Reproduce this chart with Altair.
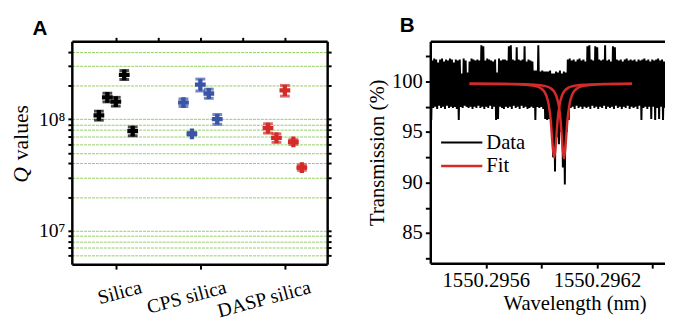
import altair as alt
import numpy as np
import pandas as pd

SERIF = "'Liberation Serif', 'Times New Roman', Times, 'DejaVu Serif', serif"
SANS = "'Liberation Sans', Arial, Helvetica, sans-serif"

# ---------------- Panel A data ----------------
categories = ["Silica", "CPS silica", "DASP silica"]
category_pos = [1, 2, 3]
group_colors = ["#000000", "#3a54a6", "#d32a2a"]

silica_x = [0.8, 0.9, 1.0, 1.1, 1.2]
silica_q = [1.08e8, 1.57e8, 1.44e8, 2.50e8, 7.8e7]
silica_err = [1.0e7, 1.4e7, 1.3e7, 2.3e7, 7e6]

cps_x = [1.8, 1.9, 2.0, 2.1, 2.2]
cps_q = [1.41e8, 7.4e7, 2.04e8, 1.70e8, 1.0e8]
cps_err = [1.1e7, 2e6, 2.5e7, 1.6e7, 1.0e7]

dasp_x = [2.8, 2.9, 3.0, 3.1, 3.2]
dasp_q = [8.3e7, 6.8e7, 1.81e8, 6.25e7, 3.68e7]
dasp_err = [8e6, 6e6, 2.0e7, 3e6, 2e6]

q_ticks = [6e6, 7e6, 8e6, 9e6, 1e7, 2e7, 3e7, 4e7, 5e7, 6e7, 7e7, 8e7, 9e7,
           1e8, 2e8, 3e8, 4e8]
top_ticks = [1, 1.5, 2, 2.5, 3]

# ---------------- Panel B data ----------------
wl_start = 1550.29530
wl_step = 5.3036e-6
transmission = [
    103.4, 96.2, 102.1, 97.4, 102.3, 97.5, 102.2, 97.3, 101.9, 97.6,
    102.2, 97.4, 102.3, 97.5, 102.0, 97.3, 102.2, 97.6, 102.1, 97.4,
    102.3, 97.5, 102.2, 97.4, 101.9, 97.5, 102.2, 97.3, 102.1, 96.2,
    102.2, 97.5, 100.8, 97.4, 102.3, 97.6, 102.1, 97.5, 100.9, 97.4,
    102.0, 97.5, 102.3, 97.3, 102.2, 97.5, 102.1, 97.4, 102.2, 97.6,
    102.1, 97.4, 103.6, 97.5, 103.5, 97.3, 102.1, 97.5, 102.3, 97.4,
    102.2, 97.6, 102.1, 97.3, 102.0, 97.5, 102.2, 96.2, 100.9, 96.3,
    102.3, 97.5, 102.1, 97.4, 102.2, 97.3, 102.2, 97.5, 102.1, 97.4,
    103.5, 97.5, 103.6, 97.3, 102.2, 97.6, 102.1, 97.4, 103.4, 97.5,
    102.2, 97.3, 102.1, 97.6, 102.2, 97.4, 103.5, 97.5, 102.0, 97.3,
    102.2, 97.4, 102.1, 97.5, 102.0, 97.4, 101.1, 96.2, 101.1, 97.5,
    103.6, 97.4, 101.0, 97.5, 101.1, 97.3, 101.0, 96.3, 101.0, 96.2,
    101.0, 96.3, 101.1, 95.5, 100.8, 92.5, 100.8, 91.1, 101.0, 94.5,
    100.9, 93.8, 101.1, 95.0, 100.8, 91.5, 101.0, 89.8, 100.9, 95.0,
    102.2, 96.2, 102.3, 97.4, 102.1, 97.5, 102.2, 97.3, 102.0, 97.6,
    102.2, 97.4, 102.3, 97.5, 102.1, 97.3, 102.2, 97.5, 102.0, 97.4,
    103.5, 97.5, 103.6, 97.3, 102.2, 97.6, 102.1, 97.4, 103.5, 97.5,
    103.4, 97.3, 102.2, 97.5, 102.1, 97.4, 102.2, 97.6, 103.6, 97.3,
    102.1, 97.5, 102.2, 97.4, 102.0, 97.5, 103.5, 97.3, 103.4, 97.6,
    102.2, 97.4, 102.1, 97.5, 102.2, 97.3, 102.0, 97.5, 102.2, 97.4,
    102.3, 97.6, 102.1, 97.3, 102.2, 97.5, 102.1, 97.4, 102.2, 97.5,
    102.0, 97.3, 102.2, 97.6, 102.1, 96.2, 102.2, 97.4, 102.3, 97.5,
    102.1, 97.3, 102.2, 97.5, 102.0, 96.3, 102.2, 97.5, 102.1, 96.2,
    102.2, 97.4, 102.3, 96.3, 102.1, 97.5, 102.2, 96.2, 102.0, 97.4,
]

fit1_wl = [1550.295512, 1550.295703, 1550.295810, 1550.295863, 1550.295895,
           1550.295916, 1550.295927, 1550.295937, 1550.295942, 1550.295948,
           1550.295953, 1550.295958, 1550.295964, 1550.295969, 1550.295974,
           1550.295980, 1550.295985, 1550.295990, 1550.295996, 1550.296001,
           1550.296011, 1550.296022, 1550.296043, 1550.296075, 1550.296128,
           1550.296235, 1550.296389]
fit1_t = [99.79, 99.76, 99.70, 99.58, 99.37, 99.00, 98.60, 97.95, 97.40, 96.60,
          95.60, 94.30, 93.05, 92.50, 93.05, 94.30, 95.60, 96.60, 97.40, 97.95,
          98.60, 99.00, 99.37, 99.58, 99.70, 99.76, 99.79]
fit2_wl = [1550.295512, 1550.295757, 1550.295863, 1550.295916, 1550.295948,
           1550.295969, 1550.295980, 1550.295990, 1550.295996, 1550.296001,
           1550.296006, 1550.296011, 1550.296017, 1550.296022, 1550.296027,
           1550.296033, 1550.296038, 1550.296043, 1550.296049, 1550.296054,
           1550.296064, 1550.296075, 1550.296096, 1550.296128, 1550.296181,
           1550.296288, 1550.296389]
fit2_t = [99.79, 99.76, 99.70, 99.58, 99.37, 99.00, 98.60, 97.95, 97.40, 96.60,
          95.60, 94.30, 93.05, 92.40, 93.05, 94.30, 95.60, 96.60, 97.40, 97.95,
          98.60, 99.00, 99.37, 99.58, 99.70, 99.76, 99.79]

wl_ticks = [1550.2956, 1550.2959, 1550.2962, 1550.2965]
wl_labels = [1550.2956, 1550.2962]
t_ticks = [82.5, 85, 87.5, 90, 92.5, 95, 97.5, 100, 102.5]

# ---------------- Panel A chart ----------------
rows = []
for name, xs, qs, es in [("Silica", silica_x, silica_q, silica_err),
                         ("CPS silica", cps_x, cps_q, cps_err),
                         ("DASP silica", dasp_x, dasp_q, dasp_err)]:
    for x, q, e in zip(xs, qs, es):
        rows.append({"group": name, "x": x, "q": q, "lo": q - e, "hi": q + e})
dfA = pd.DataFrame(rows)

GRID = "#86c94e"
AX = dict(labelFont=SERIF, titleFont=SERIF, labelColor="black", titleColor="black",
          titleFontWeight="normal", domainColor="black", domainWidth=2.5,
          tickColor="black", tickWidth=2)

xA_scale = alt.Scale(domain=[0.48, 3.5], nice=False, zero=False)
yA_scale = alt.Scale(type="log", domain=[5e6, 5e8], nice=False)
color = alt.Color("group:N", scale=alt.Scale(domain=categories, range=group_colors), legend=None)

cat_arr = "[" + ",".join("'%s'" % c for c in categories) + "]"
axA_bottom = alt.Axis(orient="bottom", values=category_pos, title=None, grid=False,
                      labelExpr=cat_arr + "[datum.value - 1]", labelOverlap=False,
                      labelAngle=-15, labelAlign="right", labelBaseline="top",
                      labelOffset=23, labelPadding=8, tickSize=5, labelFontSize=20, **AX)
axA_left = alt.Axis(orient="left", values=q_ticks, title=None, grid=True,
                    gridColor=GRID, gridDash=[3, 1], gridWidth=1, gridOpacity=0.9,
                    labelExpr="datum.value == 1e7 ? '10\u2077' : (datum.value == 1e8 ? '10\u2078' : '')",
                    labelOverlap=False, tickSize=4, labelPadding=3, labelFontSize=20, **AX)
axA_top = alt.Axis(orient="top", values=top_ticks, title=None, labels=False, tickSize=4,
                   grid=False, **AX)
axA_right = alt.Axis(orient="right", values=q_ticks, title=None, labels=False, tickSize=4,
                     grid=False, **AX)

baseA = alt.Chart(dfA)
err = baseA.mark_rule(strokeWidth=3).encode(
    x=alt.X("x:Q", scale=xA_scale, axis=axA_bottom),
    y=alt.Y("lo:Q", scale=yA_scale, axis=axA_left),
    y2="hi:Q", color=color)
cap_lo = baseA.mark_tick(orient="horizontal", size=10, thickness=3).encode(
    x=alt.X("x:Q", scale=xA_scale, axis=None),
    y=alt.Y("lo:Q", scale=yA_scale, axis=None), color=color)
cap_hi = baseA.mark_tick(orient="horizontal", size=10, thickness=3).encode(
    x=alt.X("x:Q", scale=xA_scale, axis=None),
    y=alt.Y("hi:Q", scale=yA_scale, axis=None), color=color)
pts = baseA.mark_point(shape="cross", filled=True, size=120, opacity=1).encode(
    x=alt.X("x:Q", scale=xA_scale, axis=None),
    y=alt.Y("q:Q", scale=yA_scale, axis=None), color=color)
frameA = baseA.mark_point(opacity=0, size=0, strokeWidth=0).encode(
    x=alt.X("x:Q", scale=xA_scale, axis=axA_top),
    y=alt.Y("q:Q", scale=yA_scale, axis=axA_right))

one = pd.DataFrame({"k": [0]})
q_letter = alt.Chart(one).mark_text(text="Q", font=SERIF, fontSize=22, fontStyle="italic",
                                    angle=270, align="center", baseline="alphabetic",
                                    color="black").encode(x=alt.value(-45), y=alt.value(136))
q_rest = alt.Chart(one).mark_text(text="values", font=SERIF, fontSize=22,
                                  angle=270, align="center", baseline="alphabetic",
                                  color="black").encode(x=alt.value(-45), y=alt.value(93))
letterA = alt.Chart(one).mark_text(text="A", font=SANS, fontSize=21, fontWeight="bold",
                                   align="left", baseline="alphabetic",
                                   color="black").encode(x=alt.value(-40), y=alt.value(-6))

panelA = alt.layer(err, cap_lo, cap_hi, pts, frameA, q_letter, q_rest, letterA).resolve_axis(
    x="independent", y="independent").properties(width=260, height=227)

# ---------------- Panel B chart ----------------
wl = wl_start + wl_step * np.arange(len(transmission))
wl_end = float(wl[-1])
dfB = pd.DataFrame({"wl": wl, "t": transmission})
dfFit = pd.DataFrame({
    "wl": fit1_wl + fit2_wl,
    "t": fit1_t + fit2_t,
    "series": ["fit1"] * len(fit1_wl) + ["fit2"] * len(fit2_wl),
})

xB_scale = alt.Scale(domain=[wl_start, wl_end], nice=False, zero=False)
yB_scale = alt.Scale(domain=[82, 104], nice=False, zero=False)

lab_cond = " || ".join("abs(datum.value - %r) < 1e-8" % v for v in wl_labels)
axB_bottom = alt.Axis(orient="bottom", values=wl_ticks, title="Wavelength (nm)", grid=False,
                      labelExpr="(" + lab_cond + ") ? format(datum.value, '.4f') : ''",
                      labelOverlap=False, tickSize=5, labelPadding=2, labelFontSize=21,
                      titleX=147, titleFontSize=21, titlePadding=2, labelFlush=False, **AX)
axB_left = alt.Axis(orient="left", values=t_ticks, title="Transmission (%)", grid=False,
                    labelExpr="datum.value % 5 == 0 ? format(datum.value, 'd') : ''",
                    labelOverlap=False, tickSize=5, labelPadding=3, labelFontSize=21,
                    titleFontSize=21, titlePadding=4, **AX)
axB_top = alt.Axis(orient="top", title=None, labels=False, ticks=False, grid=False, **AX)

data_line = alt.Chart(dfB).mark_line(color="black", strokeWidth=2, clip=True).encode(
    x=alt.X("wl:Q", scale=xB_scale, axis=axB_bottom),
    y=alt.Y("t:Q", scale=yB_scale, axis=axB_left))
fit_line = alt.Chart(dfFit).mark_line(color="#d32a2a", strokeWidth=2.5, clip=True,
                                      interpolate="monotone").encode(
    x=alt.X("wl:Q", scale=xB_scale, axis=None),
    y=alt.Y("t:Q", scale=yB_scale, axis=None),
    detail="series:N")
frameB = alt.Chart(dfB).mark_point(opacity=0, size=0, strokeWidth=0).encode(
    x=alt.X("wl:Q", scale=xB_scale, axis=axB_top),
    y=alt.Y("t:Q", scale=yB_scale, axis=None))

leg_data_line = alt.Chart(one).mark_rule(color="black", strokeWidth=2).encode(
    x=alt.value(11), x2=alt.value(53), y=alt.value(103))
leg_fit_line = alt.Chart(one).mark_rule(color="#d32a2a", strokeWidth=2.5).encode(
    x=alt.value(11), x2=alt.value(53), y=alt.value(127))
leg_data_txt = alt.Chart(one).mark_text(text="Data", font=SERIF, fontSize=21, align="left",
                                        baseline="middle", color="black").encode(
    x=alt.value(57), y=alt.value(104))
leg_fit_txt = alt.Chart(one).mark_text(text="Fit", font=SERIF, fontSize=21, align="left",
                                       baseline="middle", color="black").encode(
    x=alt.value(57), y=alt.value(127))
letterB = alt.Chart(one).mark_text(text="B", font=SANS, fontSize=21, fontWeight="bold",
                                   align="left", baseline="alphabetic",
                                   color="black").encode(x=alt.value(-31), y=alt.value(-9))

panelB = alt.layer(data_line, fit_line, frameB, leg_data_line, leg_fit_line,
                   leg_data_txt, leg_fit_txt, letterB).resolve_axis(
    x="independent", y="independent").properties(width=239, height=226)

chart = alt.hconcat(panelA, panelB, spacing=35).configure(
    padding={"left": 2, "top": 5, "right": 0, "bottom": 0}, font=SERIF
).configure_view(stroke=None).configure_axis(
    grid=False, domainColor="black", domainWidth=2.5, tickColor="black", tickWidth=2,
    labelFont=SERIF, labelColor="black", titleFont=SERIF, titleFontWeight="normal",
    titleColor="black", labelFontSize=20, titleFontSize=21
)

chart.save("out.html", embed_options={"renderer": "svg", "actions": False})
